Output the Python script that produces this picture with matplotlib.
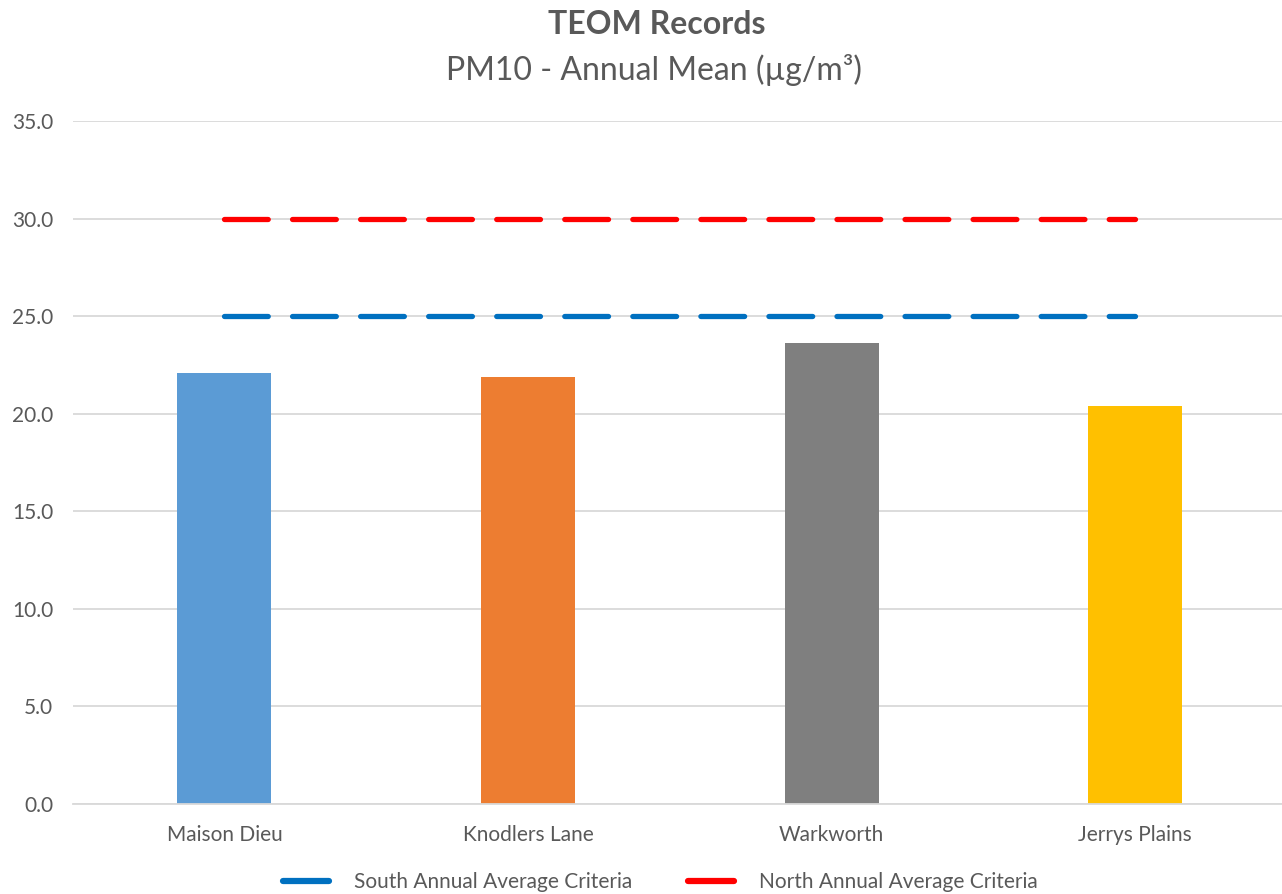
import matplotlib.pyplot as plt
from matplotlib.lines import Line2D

# TEOM annual mean PM10 per monitoring site
sites = ['Maison Dieu', 'Knodlers Lane', 'Warkworth', 'Jerrys Plains']
pm10_mean = [22.1, 21.9, 23.6, 20.4]
bar_colors = ['#5B9BD5', '#ED7D31', '#7F7F7F', '#FFC000']

# criteria lines
south_criteria = [25.0, 25.0, 25.0, 25.0]
north_criteria = [30.0, 30.0, 30.0, 30.0]

y_ticks = [0, 5, 10, 15, 20, 25, 30, 35]

plt.rcParams['font.family'] = ['Lato', 'DejaVu Sans']
plt.rcParams['lines.scale_dashes'] = False

fig = plt.figure(figsize=(12.82, 8.94), dpi=100)
ax = fig.add_axes([0.0566, 0.1007, 0.9474, 0.764])

x = list(range(len(sites)))
ax.bar(x, pm10_mean, width=0.31, color=bar_colors, zorder=2)

dash = (0, (31.5, 17.5))
ax.plot(x, south_criteria, color='#0070C0', lw=3.8, linestyle=dash,
        dash_capstyle='round', zorder=3)
ax.plot(x, north_criteria, color='#FF0000', lw=3.8, linestyle=dash,
        dash_capstyle='round', zorder=3)

ax.set_xlim(-0.5, 3.5)
ax.set_ylim(0, 35)
ax.set_yticks(y_ticks)
ax.set_yticklabels([f'{v:.1f}' for v in y_ticks])
ax.set_xticks(x)
ax.set_xticklabels(sites)
ax.yaxis.grid(True, color='#D9D9D9', lw=1.3, zorder=0)
ax.set_axisbelow(True)
for side in ['top', 'right', 'left']:
    ax.spines[side].set_visible(False)
ax.spines['bottom'].set_color('#D9D9D9')
ax.spines['bottom'].set_linewidth(1.3)
ax.tick_params(axis='both', length=0, labelsize=15, labelcolor='#595959')
ax.tick_params(axis='x', pad=15)
ax.tick_params(axis='y', pad=14)

fig.text(0.512, 0.973, 'TEOM Records', ha='center', va='center',
         fontsize=23, fontweight='bold', color='#595959')
fig.text(0.51, 0.922, 'PM10 - Annual Mean (µg/m³)', ha='center', va='center',
         fontsize=23, color='#595959')

handles = [
    Line2D([], [], color='#0070C0', lw=4.5, solid_capstyle='round'),
    Line2D([], [], color='#FF0000', lw=4.5, solid_capstyle='round'),
]
fig.legend(handles, ['South Annual Average Criteria', 'North Annual Average Criteria'],
           loc='center', bbox_to_anchor=(0.515, 0.0135), ncol=2, frameon=False,
           fontsize=15, labelcolor='#595959', handlelength=2.2,
           columnspacing=2.7, handletextpad=1.2, borderpad=0.1)

fig.savefig('out.png', dpi=100)
